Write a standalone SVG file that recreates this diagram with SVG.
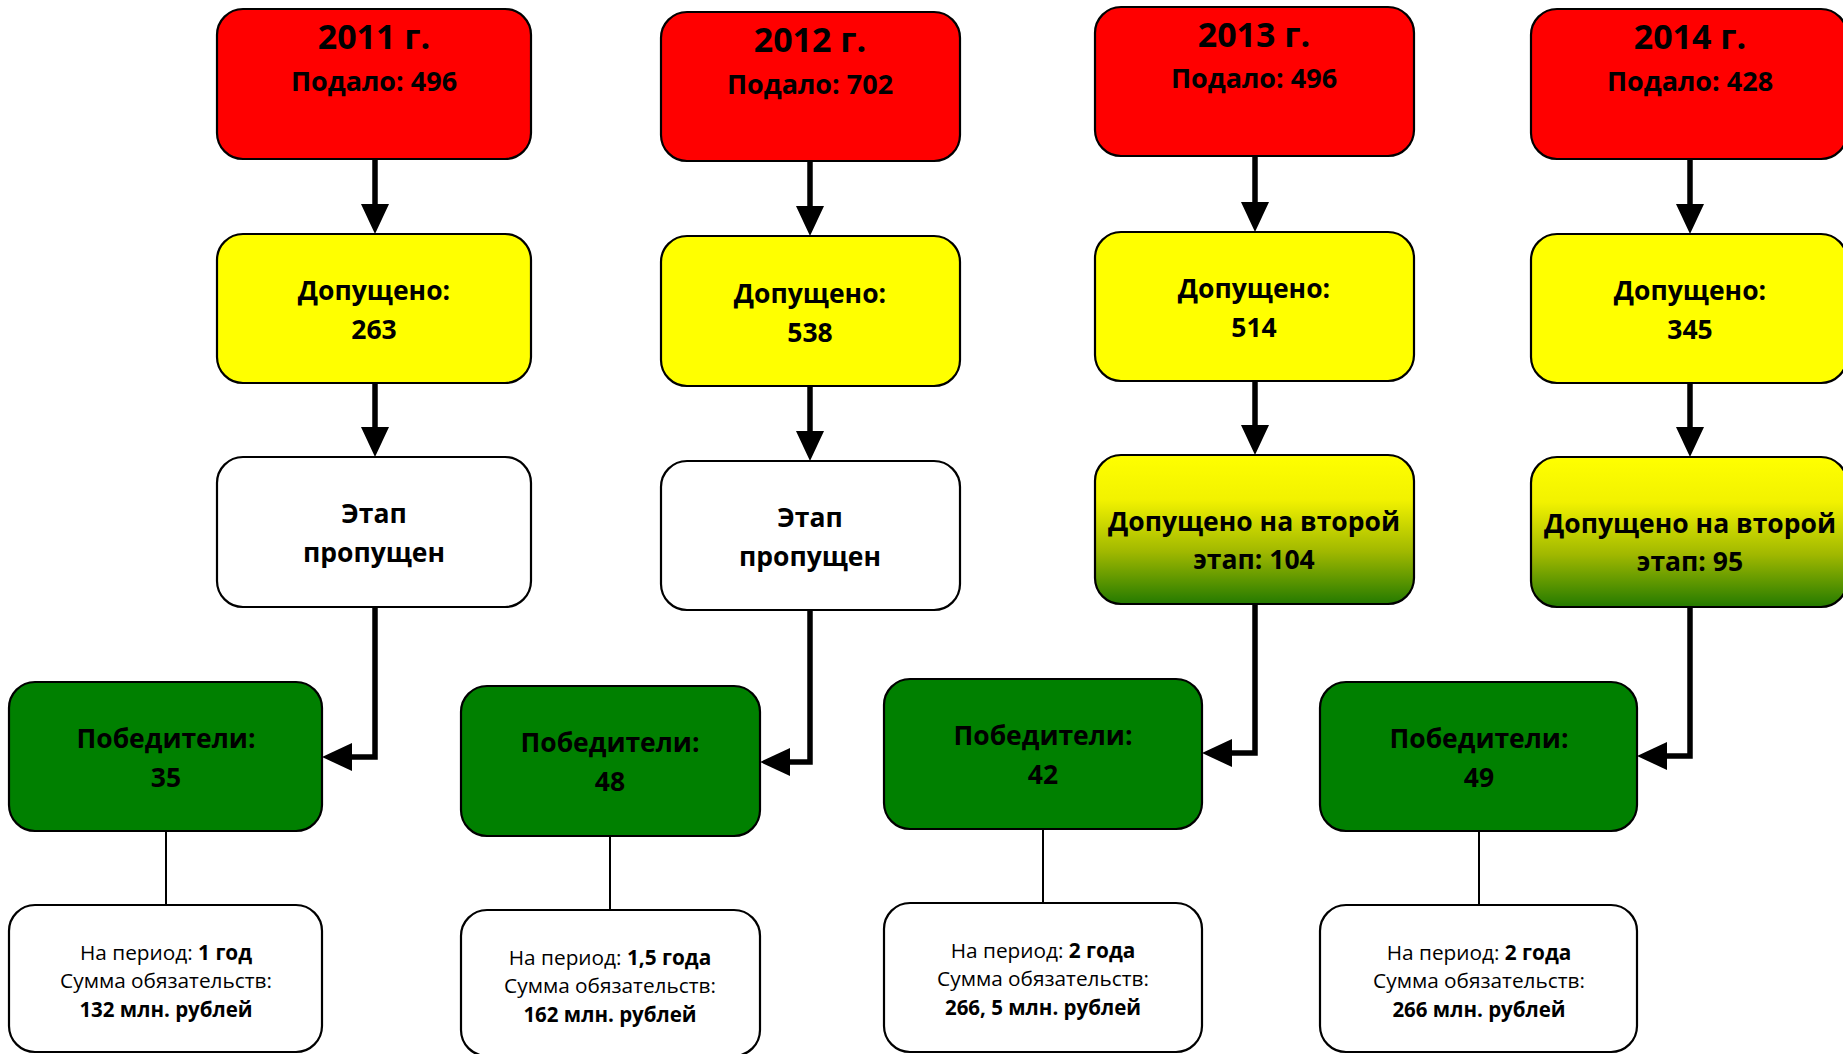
<svg xmlns="http://www.w3.org/2000/svg" width="1843" height="1054" viewBox="0 0 1843 1054">
<style>
.box{stroke:#000;stroke-width:2.2}
.red{fill:#ff0000}.yel{fill:#ffff00}.wht{fill:#ffffff}.grn{fill:#008000}.grd{fill:url(#g2)}
text{font-family:"Open Sans","Noto Sans","DejaVu Sans",sans-serif;fill:#000;text-anchor:middle}
.yr{font-size:34px;font-weight:700}
.b{font-size:26.5px;font-weight:700}
.p{font-size:27px;font-weight:700}
.s{font-size:20.8px}
.s tspan.k{font-weight:700}
.sb{font-size:20.5px;font-weight:700}
.thick{fill:none;stroke:#000;stroke-width:5.5}
.thin{fill:none;stroke:#000;stroke-width:2}
</style>
<defs>
<linearGradient id="g2" x1="0" y1="0" x2="0" y2="1">
<stop offset="0" stop-color="#ffff00"/>
<stop offset="0.3" stop-color="#f2f200"/>
<stop offset="0.65" stop-color="#a0b800"/>
<stop offset="1" stop-color="#247a00"/>
</linearGradient>
<marker id="ah" markerUnits="userSpaceOnUse" markerWidth="30" markerHeight="28" refX="0" refY="14" orient="auto">
<path d="M0,0 L30,14 L0,28 z" fill="#000"/>
</marker>
</defs>

<g id="connectors">
<path class="thick" d="M375 159 V204" marker-end="url(#ah)"/>
<path class="thick" d="M375 383 V427" marker-end="url(#ah)"/>
<path class="thick" d="M375 607 V757 H352" marker-end="url(#ah)"/>
<path class="thin" d="M166 831 V905"/>

<path class="thick" d="M810 161 V206" marker-end="url(#ah)"/>
<path class="thick" d="M810 386 V431" marker-end="url(#ah)"/>
<path class="thick" d="M810 610 V762 H790" marker-end="url(#ah)"/>
<path class="thin" d="M610 836 V910"/>

<path class="thick" d="M1255 156 V202" marker-end="url(#ah)"/>
<path class="thick" d="M1255 381 V425" marker-end="url(#ah)"/>
<path class="thick" d="M1255 604 V753 H1232" marker-end="url(#ah)"/>
<path class="thin" d="M1043 829 V903"/>

<path class="thick" d="M1690 159 V204" marker-end="url(#ah)"/>
<path class="thick" d="M1690 383 V427" marker-end="url(#ah)"/>
<path class="thick" d="M1690 607 V756 H1667" marker-end="url(#ah)"/>
<path class="thin" d="M1479 831 V905"/>
</g>

<!-- 2011 -->
<g id="n2011-submitted"><rect class="box red" x="217" y="9" width="314" height="150" rx="26"/>
<text class="yr" x="374" y="49">2011 г.</text><text class="p" x="374" y="91">Подало: 496</text></g>
<g id="n2011-admitted"><rect class="box yel" x="217" y="234" width="314" height="149" rx="26"/>
<text class="b" x="374" y="300">Допущено:</text><text class="b" x="374" y="339">263</text></g>
<g id="n2011-stage"><rect class="box wht" x="217" y="457" width="314" height="150" rx="26"/>
<text class="b" x="374" y="523">Этап</text><text class="b" x="374" y="562">пропущен</text></g>
<g id="n2011-winners"><rect class="box grn" x="9" y="682" width="313" height="149" rx="26"/>
<text class="b" x="166" y="748">Победители:</text><text class="b" x="166" y="787">35</text></g>
<g id="n2011-info"><rect class="box wht" x="9" y="905" width="313" height="147" rx="26"/>
<text class="s" x="166" y="960">На период: <tspan class="k">1 год</tspan></text>
<text class="s" x="166" y="988">Сумма обязательств:</text>
<text class="sb" x="166" y="1017">132 млн. рублей</text></g>

<!-- 2012 -->
<g id="n2012-submitted"><rect class="box red" x="661" y="12" width="299" height="149" rx="26"/>
<text class="yr" x="810" y="52">2012 г.</text><text class="p" x="810" y="94">Подало: 702</text></g>
<g id="n2012-admitted"><rect class="box yel" x="661" y="236" width="299" height="150" rx="26"/>
<text class="b" x="810" y="303">Допущено:</text><text class="b" x="810" y="342">538</text></g>
<g id="n2012-stage"><rect class="box wht" x="661" y="461" width="299" height="149" rx="26"/>
<text class="b" x="810" y="527">Этап</text><text class="b" x="810" y="566">пропущен</text></g>
<g id="n2012-winners"><rect class="box grn" x="461" y="686" width="299" height="150" rx="26"/>
<text class="b" x="610" y="752">Победители:</text><text class="b" x="610" y="791">48</text></g>
<g id="n2012-info"><rect class="box wht" x="461" y="910" width="299" height="146" rx="26"/>
<text class="s" x="610" y="965">На период: <tspan class="k">1,5 года</tspan></text>
<text class="s" x="610" y="993">Сумма обязательств:</text>
<text class="sb" x="610" y="1022">162 млн. рублей</text></g>

<!-- 2013 -->
<g id="n2013-submitted"><rect class="box red" x="1095" y="7" width="319" height="149" rx="26"/>
<text class="yr" x="1254" y="47">2013 г.</text><text class="p" x="1254" y="88">Подало: 496</text></g>
<g id="n2013-admitted"><rect class="box yel" x="1095" y="232" width="319" height="149" rx="26"/>
<text class="b" x="1254" y="298">Допущено:</text><text class="b" x="1254" y="337">514</text></g>
<g id="n2013-second"><rect class="box grd" x="1095" y="455" width="319" height="149" rx="26"/>
<text class="b" x="1254" y="531">Допущено на второй</text><text class="b" x="1254" y="569">этап: 104</text></g>
<g id="n2013-winners"><rect class="box grn" x="884" y="679" width="318" height="150" rx="26"/>
<text class="b" x="1043" y="745">Победители:</text><text class="b" x="1043" y="784">42</text></g>
<g id="n2013-info"><rect class="box wht" x="884" y="903" width="318" height="149" rx="26"/>
<text class="s" x="1043" y="958">На период: <tspan class="k">2 года</tspan></text>
<text class="s" x="1043" y="986">Сумма обязательств:</text>
<text class="sb" x="1043" y="1015">266, 5 млн. рублей</text></g>

<!-- 2014 -->
<g id="n2014-submitted"><rect class="box red" x="1531" y="9" width="316" height="150" rx="26"/>
<text class="yr" x="1690" y="49">2014 г.</text><text class="p" x="1690" y="91">Подало: 428</text></g>
<g id="n2014-admitted"><rect class="box yel" x="1531" y="234" width="316" height="149" rx="26"/>
<text class="b" x="1690" y="300">Допущено:</text><text class="b" x="1690" y="339">345</text></g>
<g id="n2014-second"><rect class="box grd" x="1531" y="457" width="316" height="150" rx="26"/>
<text class="b" x="1690" y="533">Допущено на второй</text><text class="b" x="1690" y="571">этап: 95</text></g>
<g id="n2014-winners"><rect class="box grn" x="1320" y="682" width="317" height="149" rx="26"/>
<text class="b" x="1479" y="748">Победители:</text><text class="b" x="1479" y="787">49</text></g>
<g id="n2014-info"><rect class="box wht" x="1320" y="905" width="317" height="147" rx="26"/>
<text class="s" x="1479" y="960">На период: <tspan class="k">2 года</tspan></text>
<text class="s" x="1479" y="988">Сумма обязательств:</text>
<text class="sb" x="1479" y="1017">266 млн. рублей</text></g>
</svg>
